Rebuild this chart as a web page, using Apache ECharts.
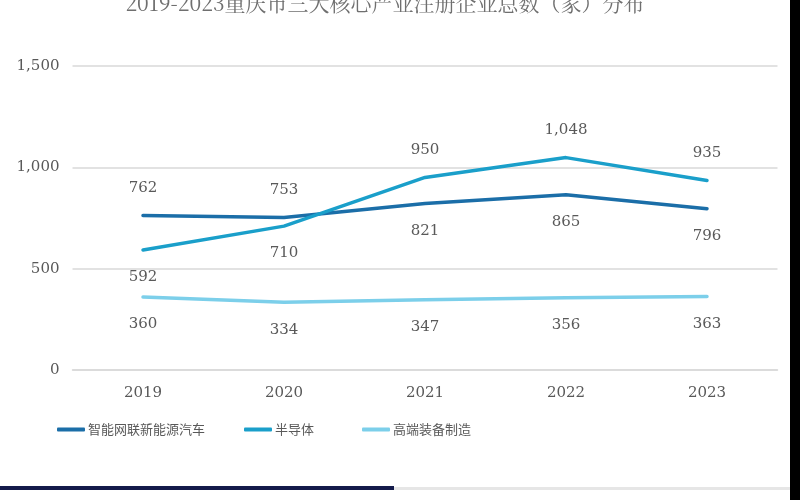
<!DOCTYPE html>
<html><head><meta charset="utf-8">
<script src="https://cdn.jsdelivr.net/npm/echarts@6/dist/echarts.min.js"></script>
<style>html,body{margin:0;padding:0;background:#fff}#c{width:800px;height:500px}</style>
</head><body><div id="c"></div>
<script>
const categories = ['2019','2020','2021','2022','2023'];
const seriesNames = ['智能网联新能源汽车','半导体','高端装备制造'];
const carValues = [762, 753, 821, 865, 796];
const semiValues = [592, 710, 950, 1048, 935];
const equipValues = [360, 334, 347, 356, 363];
const carLabelPos = ['top','top','bottom','bottom','bottom'];
const semiLabelPos = ['bottom','bottom','top','top','top'];
const equipLabelPos = ['bottom','bottom','bottom','bottom','bottom'];
const yTicks = [0, 500, 1000, 1500];
const titleText = '2019-2023重庆市三大核心产业注册企业总数（家）分布';
const colors = ['#1b6ea8', '#1a9fca', '#7ccfea'];

const chart = echarts.init(document.getElementById('c'));
const numFont = '"DejaVu Serif", serif';
const fmt = v => v.toLocaleString('en-US');
function mkData(vals, pos){
  return vals.map((v,i)=>({value:v, label:{position:pos[i]}}));
}
function mkSeries(name, vals, pos, color){
  return {
    name, type:'line', data: mkData(vals,pos), symbol:'circle', symbolSize:0, showSymbol:true,
    lineStyle:{width:3.5, color, cap:'round'}, itemStyle:{color},
    label:{show:true, distance:20, color:'#595959', fontSize:15, fontFamily:numFont,
      formatter:p=>fmt(p.value)}
  };
}
const legendCommon = {top:418, icon:'roundRect', itemWidth:28, itemHeight:4, itemGap:0,
  textStyle:{color:'#595959', fontSize:13, fontFamily:'"Noto Sans CJK SC"', padding:[0,0,0,-2]}};
chart.setOption({
  animation:false,
  title:{text:titleText, left:380, textAlign:'center', top:-12, textStyle:{color:'#6f6f6f', fontSize:21, fontWeight:'normal', fontFamily:'"Noto Serif CJK SC","DejaVu Serif", serif'}},
  legend:[
    Object.assign({}, legendCommon, {left:52, data:[seriesNames[0]]}),
    Object.assign({}, legendCommon, {left:239, data:[seriesNames[1]]}),
    Object.assign({}, legendCommon, {left:357, data:[seriesNames[2]]})
  ],
  grid:{left:72.5, right:22.5, top:66, bottom:130},
  xAxis:{type:'category', data:categories, boundaryGap:true,
    axisLine:{show:true, lineStyle:{color:'#d9d9d9', width:1.5}}, axisTick:{show:false},
    axisLabel:{color:'#595959', fontSize:15, fontFamily:numFont, margin:16}},
  yAxis:{type:'value', min:yTicks[0], max:yTicks[yTicks.length-1], interval:500,
    axisLine:{show:false}, axisTick:{show:false},
    splitLine:{lineStyle:{color:'#d9d9d9', width:1.5}},
    axisLabel:{color:'#595959', fontSize:15, fontFamily:numFont, margin:13, formatter:v=>fmt(v)}},
  series:[
    mkSeries(seriesNames[0], carValues, carLabelPos, colors[0]),
    mkSeries(seriesNames[1], semiValues, semiLabelPos, colors[1]),
    mkSeries(seriesNames[2], equipValues, equipLabelPos, colors[2])
  ],
  graphic:[
    {type:'rect', shape:{x:790, y:0, width:10, height:500}, style:{fill:'#000'}},
    {type:'rect', shape:{x:0, y:486, width:394, height:4}, style:{fill:'#141a4a'}},
    {type:'rect', shape:{x:394, y:487, width:396, height:3}, style:{fill:'#e6e6e6'}}
  ]
});
</script></body></html>
